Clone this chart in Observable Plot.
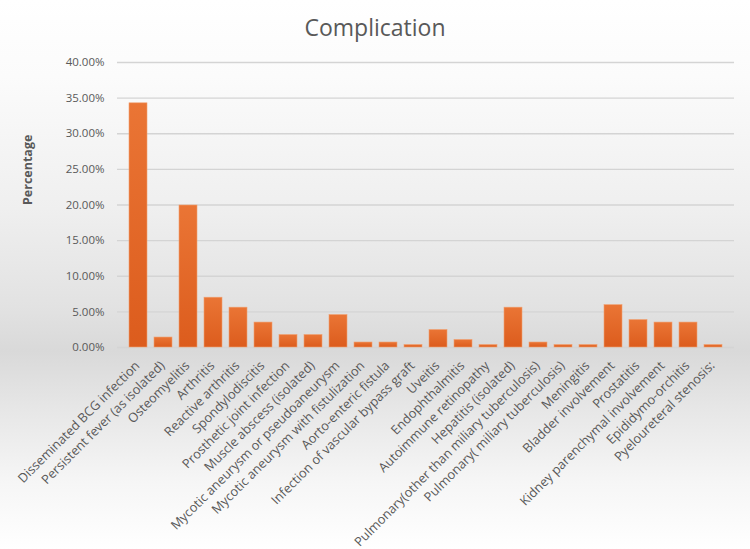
<!DOCTYPE html>
<html>
<head>
<meta charset="utf-8">
<script src="https://cdn.jsdelivr.net/npm/d3@7"></script>
<script src="https://cdn.jsdelivr.net/npm/@observablehq/plot@0.6"></script>
<style>
  html, body { margin: 0; padding: 0; }
  #chart {
    width: 750px; height: 549px; position: relative; overflow: hidden;
    font-family: "Open Sans", sans-serif;
    background: linear-gradient(to bottom, #ffffff 0%, #fbfbfb 14%, #efefef 38%, #e2e2e2 56%, #d9d9d9 64%, #e6e6e6 74%, #f6f6f6 88%, #ffffff 100%);
  }
  #title {
    height: 50px; line-height: 54px; text-align: center;
    font-size: 23px; color: #595959; font-weight: 400;
  }
  #chart svg { display: block; background: transparent; }
</style>
</head>
<body>
<div id="chart">
  <div id="title">Complication</div>
</div>
<script>
// Complication categories and their share of cases (%)
const categories = [
  "Disseminated BCG infection",
  "Persistent fever (as isolated)",
  "Osteomyelitis",
  "Arthritis",
  "Reactive arthritis",
  "Spondylodiscitis",
  "Prosthetic joint infection",
  "Muscle abscess (isolated)",
  "Mycotic aneurysm or pseudoaneurysm",
  "Mycotic aneurysm with fistulization",
  "Aorto-enteric fistula",
  "Infection of vascular bypass graft",
  "Uveitis",
  "Endophthalmitis",
  "Autoimmune retinopathy",
  "Hepatitis (isolated)",
  "Pulmonary(other than miliary tuberculosis)",
  "Pulmonary( miliary tuberculosis)",
  "Meningitis",
  "Bladder involvement",
  "Prostatitis",
  "Kidney parenchymal involvement",
  "Epididymo-orchitis",
  "Pyeloureteral stenosis:"
];
const percentages = [
  34.27, 1.40, 19.93, 6.99, 5.59, 3.50, 1.75, 1.75, 4.55, 0.70, 0.70, 0.35,
  2.45, 1.05, 0.35, 5.59, 0.70, 0.35, 0.35, 5.94, 3.85, 3.50, 3.50, 0.35
];
const yTicks = [0, 5, 10, 15, 20, 25, 30, 35, 40];

const data = categories.map((c, i) => ({category: c, value: percentages[i]}));
const grey = "#595959";

const chart = Plot.plot({
  width: 750,
  height: 499,
  marginTop: 12,
  marginBottom: 202,
  marginLeft: 117,
  marginRight: 16,
  style: {fontFamily: "'Open Sans', sans-serif", background: "transparent", color: grey},
  x: {domain: categories, padding: 0.3, label: null},
  y: {domain: [0, 40], label: null},
  marks: [
    Plot.gridY(yTicks, {stroke: "#d4d4d4", strokeOpacity: 1, strokeWidth: 1.3}),
    Plot.barY(data, {x: "category", y: "value", fill: "url(#barGrad)", stroke: "#f0a070", strokeWidth: 0.6}),
    Plot.axisY(yTicks, {
      tickSize: 0, tickPadding: 13, label: null,
      tickFormat: d => d.toFixed(2) + "%", fontSize: 11.5, fill: grey
    }),
    Plot.axisX({
      tickSize: 0, tickRotate: -45, tickPadding: 6, dx: -1, dy: 10, label: null,
      fontSize: 12.8, fill: grey
    }),
    Plot.text(["Percentage"], {
      frameAnchor: "left", dx: -90, rotate: -90,
      fontSize: 12.5, fontWeight: "bold", fill: grey
    })
  ]
});

// Vertical orange gradient used by the bars
const svg = d3.select(chart);
const defs = svg.insert("defs", ":first-child");
const grad = defs.append("linearGradient")
  .attr("id", "barGrad").attr("x1", 0).attr("y1", 0).attr("x2", 0).attr("y2", 1);
grad.append("stop").attr("offset", "0%").attr("stop-color", "#ea7535");
grad.append("stop").attr("offset", "100%").attr("stop-color", "#dc5c1d");

document.getElementById("chart").appendChild(chart);
</script>
</body>
</html>
